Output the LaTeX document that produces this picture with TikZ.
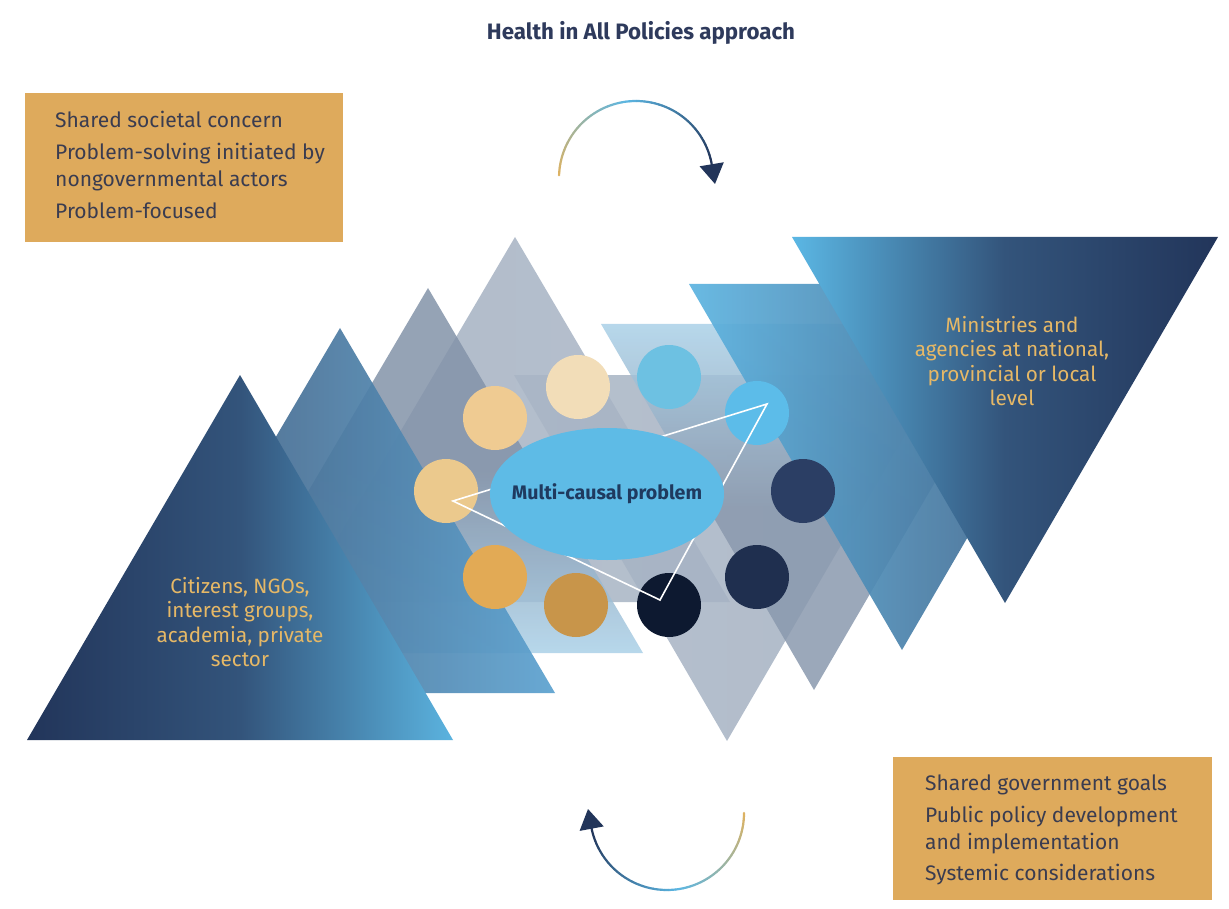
\documentclass[tikz,border=0pt]{standalone}
\usepackage{fontspec}
\setmainfont{Fira Sans}
\usetikzlibrary{shapes.geometric,arrows.meta}
\definecolor{boxgold}{HTML}{DEAA5C}
\definecolor{boxtext}{HTML}{3A3C50}
\definecolor{titlec}{HTML}{2E3A5C}
\definecolor{goldtext}{HTML}{E6B866}
\definecolor{navy}{HTML}{22355A}
\definecolor{lblue}{HTML}{5CB6E2}
\definecolor{arcgold}{HTML}{E1B25E}
\definecolor{ellblue}{HTML}{5EBBE6}
\definecolor{probtext}{HTML}{1F3A5F}
\definecolor{cA}{HTML}{EFCB92}
\definecolor{cB}{HTML}{F2DDB8}
\definecolor{cC}{HTML}{6DC1E2}
\definecolor{cD}{HTML}{5CBCE9}
\definecolor{cE}{HTML}{2B3E64}
\definecolor{cF}{HTML}{1F2F4F}
\definecolor{cG}{HTML}{0D1930}
\definecolor{cH}{HTML}{C8954A}
\definecolor{cI}{HTML}{E2AA55}
\definecolor{cJ}{HTML}{EBC98D}
\definecolor{gA}{HTML}{A3B0C2}
\definecolor{gB}{HTML}{A9B5C5}
\definecolor{gC}{HTML}{8393A9}
\definecolor{gD}{HTML}{ABD1E8}
\definecolor{gE}{HTML}{8A99AE}
\definecolor{sA}{HTML}{3C5576}
\definecolor{sB}{HTML}{5CA2D0}
\definecolor{sC}{HTML}{5DB4E1}
\definecolor{sD}{HTML}{3A5479}
\definecolor{fA}{HTML}{5BB3DF}
\definecolor{fB}{HTML}{5BB7E4}
\definecolor{fM}{HTML}{33547B}
\begin{document}
\begin{tikzpicture}[x=1pt,y=-1pt,
  boxnode/.style={fill=boxgold, draw=none, anchor=north west},
  boxlines/.style={text=boxtext, anchor=north west, align=left, inner sep=0pt, font=\fontsize{21}{27}\selectfont},
  tritext/.style={text=goldtext, align=center, inner sep=0pt, font=\fontsize{20.7}{24.5}\selectfont},
  dot/.style={circle, draw=none, minimum size=64pt, inner sep=0pt},
  arcseg/.style={line width=2.2pt, line cap=round}]
\useasboundingbox (0,0) rectangle (1229,909);
\fill[white] (0,0) rectangle (1229,909);

% title
\node[text=titlec, font=\bfseries\fontsize{22.3}{26}\selectfont] (title) at (641,33) {Health in All Policies approach};

% back triangles
\shade[left color=gA, right color=gB, fill opacity=0.85] (515,237) -- (300,602) -- (730,602) -- cycle;
\shade[left color=gB, right color=gA, fill opacity=0.85] (727,741) -- (514,375) -- (940,375) -- cycle;
\shade[top color=gC, bottom color=gD, middle color=gC, fill opacity=0.85] (428,288) -- (213,653) -- (643,653) -- cycle;
\shade[top color=gD, bottom color=gE, middle color=gE, fill opacity=0.85] (814,690) -- (601,324) -- (1027,324) -- cycle;
\shade[left color=sA, right color=sB, fill opacity=0.92] (340,328) -- (125,693) -- (555,693) -- cycle;
\shade[left color=sC, right color=sD, fill opacity=0.92] (902,650) -- (689,284) -- (1115,284) -- cycle;
% front triangles
\shade[left color=navy, right color=fA, middle color=fM] (240,375) -- (27,740) -- (453,740) -- cycle;
\shade[left color=fB, right color=navy, middle color=fM] (1005,603) -- (792,237) -- (1218,237) -- cycle;

% triangle texts
\node[tritext] (citizens) at (240,622) {Citizens, NGOs,\\interest groups,\\academia, private\\sector};
\node[tritext] (ministries) at (1012,361) {Ministries and\\agencies at national,\\provincial or local\\level};

% circles
\node[dot, fill=cA] (c1) at (495,418) {};
\node[dot, fill=cB] (c2) at (578,387) {};
\node[dot, fill=cC] (c3) at (669,377) {};
\node[dot, fill=cD] (c4) at (757,413) {};
\node[dot, fill=cE] (c5) at (803,491) {};
\node[dot, fill=cF] (c6) at (757,577) {};
\node[dot, fill=cG] (c7) at (669,605) {};
\node[dot, fill=cH] (c8) at (576,605) {};
\node[dot, fill=cI] (c9) at (495,577) {};
\node[dot, fill=cJ] (c10) at (446,491) {};

% white triangle
\coordinate (w1) at (767,404);
\coordinate (w2) at (453,501);
\coordinate (w3) at (660,600);
\draw[white, line width=1.6pt, line join=miter] (w1) -- (w2) -- (w3) -- cycle;

% central ellipse
\node[ellipse, fill=ellblue, minimum width=234pt, minimum height=132pt, inner sep=0pt] (prob) at (607,494) {};
\node[text=probtext, font=\bfseries\fontsize{19.6}{23}\selectfont, inner sep=0pt] (probtxt) at (prob.center) {Multi-causal problem};

% boxes
\node[boxnode, minimum width=318pt, minimum height=149pt] (tlbox) at (25,93) {};
\node[boxlines] (tltext) at (55,111) {Shared societal concern\\[5pt]Problem-solving initiated by\\nongovernmental actors\\[4.5pt]Problem-focused};
\node[boxnode, minimum width=319pt, minimum height=143pt] (brbox) at (893,757) {};
\node[boxlines] (brtext) at (925,775) {Shared government goals\\[4.5pt]Public policy development\\and implementation\\[4.5pt]Systemic considerations};

% top cycle arrow
\coordinate (tc) at (636,178);
\foreach \i in {1,...,60} {
  \pgfmathsetmacro\aa{-178+(\i-1)*166/60}
  \pgfmathsetmacro\ab{-178+\i*166/60}
  \ifnum\i<31
    \pgfmathtruncatemacro\p{\i*100/30}
    \draw[arcseg, draw={lblue!\p!arcgold}] ([shift={(tc)}]\aa:77) -- ([shift={(tc)}]\ab:77);
  \else
    \pgfmathtruncatemacro\p{(\i-30)*100/30}
    \draw[arcseg, draw={navy!\p!lblue}] ([shift={(tc)}]\aa:77) -- ([shift={(tc)}]\ab:77);
  \fi
}
\coordinate (tend) at ([shift={(tc)}]-12:77);
\coordinate (ttip) at (715,184);
\draw[navy, line width=2.2pt, -{Triangle[width=24pt,length=20pt]}] (tend) -- (ttip);

% bottom cycle arrow
\coordinate (bc) at (667,813);
\foreach \i in {1,...,60} {
  \pgfmathsetmacro\aa{(\i-1)*167/60}
  \pgfmathsetmacro\ab{\i*167/60}
  \ifnum\i<31
    \pgfmathtruncatemacro\p{\i*100/30}
    \draw[arcseg, draw={lblue!\p!arcgold}] ([shift={(bc)}]\aa:77) -- ([shift={(bc)}]\ab:77);
  \else
    \pgfmathtruncatemacro\p{(\i-30)*100/30}
    \draw[arcseg, draw={navy!\p!lblue}] ([shift={(bc)}]\aa:77) -- ([shift={(bc)}]\ab:77);
  \fi
}
\coordinate (bend) at ([shift={(bc)}]167:77);
\coordinate (btip) at (588,809);
\draw[navy, line width=2.2pt, -{Triangle[width=24pt,length=20pt]}] (bend) -- (btip);
\end{tikzpicture}
\end{document}
